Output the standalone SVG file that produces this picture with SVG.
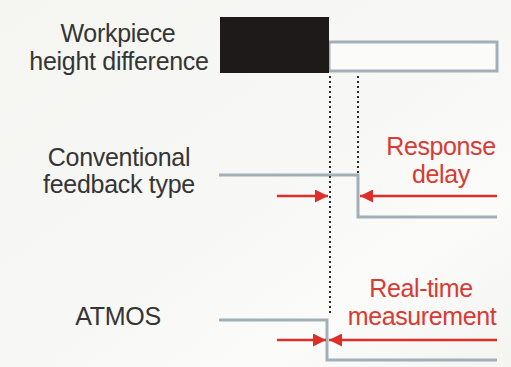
<svg xmlns="http://www.w3.org/2000/svg" width="511" height="367" viewBox="0 0 511 367">
<defs>
<linearGradient id="bg" x1="0" y1="0" x2="1" y2="1">
<stop offset="0" stop-color="#f5f5f2"/>
<stop offset="0.5" stop-color="#f7f7f5"/>
<stop offset="0.75" stop-color="#fbfbfa"/>
<stop offset="1" stop-color="#f4f4f1"/>
</linearGradient>
<marker id="ah" viewBox="0 0 10 10" refX="10" refY="5" markerWidth="7" markerHeight="5" markerUnits="strokeWidth" orient="auto">
<path d="M0,0 L10,5 L0,10 z" fill="#dd2e2a"/>
</marker>
<style>
.lbl{font-family:"Liberation Sans",Arial,sans-serif;font-size:25px;fill:#353535;text-anchor:middle;letter-spacing:-0.3px}
.red{font-family:"Liberation Sans",Arial,sans-serif;font-size:25px;fill:#d83a34;text-anchor:middle;letter-spacing:-0.4px}
.sig{fill:none;stroke:#a2afb7;stroke-width:3}
.dot{fill:none;stroke:#2a2a2a;stroke-width:2;stroke-dasharray:2 3}
.arr{fill:none;stroke:#dd2e2a;stroke-width:2.6;marker-end:url(#ah)}
</style>
</defs>
<rect width="511" height="367" fill="url(#bg)"/>
<g id="workpiece">
<text class="lbl" x="118" y="42">Workpiece</text>
<text class="lbl" x="119" y="70">height difference</text>
<rect x="329" y="42" width="168" height="29" fill="#fbfbfa" stroke="#a2afb7" stroke-width="3"/>
<rect x="220" y="17" width="109" height="56" fill="#1e1a19"/>
</g>
<g id="conventional">
<text class="lbl" x="119" y="166">Conventional</text>
<text class="lbl" x="119" y="193">feedback type</text>
<path class="sig" d="M219,175 H358 V217 H497"/>
<text class="red" x="441" y="155">Response</text>
<text class="red" x="441" y="183">delay</text>
</g>
<g id="atmos">
<text class="lbl" x="118" y="325">ATMOS</text>
<path class="sig" d="M219,320 H327 V360 H497"/>
<text class="red" x="421" y="297">Real-time</text>
<text class="red" x="422" y="325">measurement</text>
</g>
<g id="connectors">
<line class="dot" x1="330" y1="76" x2="330" y2="315"/>
<line class="dot" x1="358" y1="76" x2="358" y2="174"/>
<line class="arr" x1="277" y1="196" x2="328" y2="196"/>
<line class="arr" x1="497" y1="196" x2="360" y2="196"/>
<line class="arr" x1="277" y1="340" x2="326" y2="340"/>
<line class="arr" x1="497" y1="340" x2="329" y2="340"/>
</g>
</svg>
